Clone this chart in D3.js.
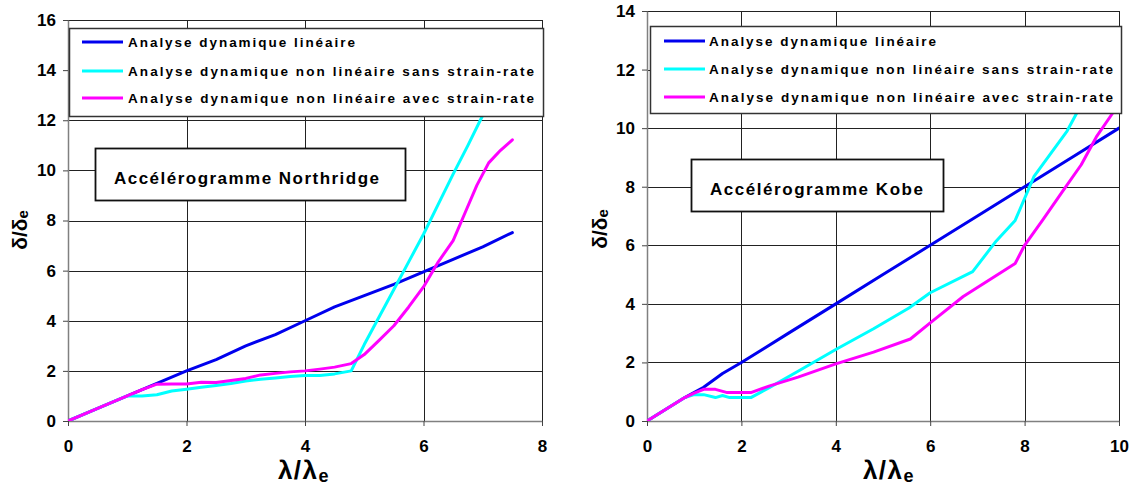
<!DOCTYPE html>
<html>
<head>
<meta charset="utf-8">
<script src="https://cdn.jsdelivr.net/npm/d3@7"></script>
<style>
  html, body { margin: 0; padding: 0; background: #fff; }
  svg { display: block; }
  text { font-family: Arial, "Liberation Sans", Helvetica, sans-serif; font-weight: bold; fill: #000; }
</style>
</head>
<body>
<svg id="chart" width="1135" height="488"></svg>
<script>
// ---------------- DATA ----------------
const seriesNames = [
  "Analyse dynamique linéaire",
  "Analyse dynamique non linéaire sans strain-rate",
  "Analyse dynamique non linéaire avec strain-rate"
];
const seriesColors = ["#0000ee", "#00ffff", "#ff00ff"];

// Northridge (left chart)
const nrLinX = [0, 0.5, 1, 1.5, 2, 2.5, 3, 3.5, 4, 4.5, 5, 5.5, 6, 6.5, 7, 7.5];
const nrLinY = [0, 0.5, 1.0, 1.5, 2.0, 2.45, 3.0, 3.45, 4.0, 4.55, 5.0, 5.45, 5.95, 6.45, 6.95, 7.52];
const nrSansX = [0, 0.5, 1.0, 1.25, 1.5, 1.75, 2.0, 2.25, 2.5, 2.75, 3.0, 3.25, 3.5, 3.75, 4.0, 4.25, 4.5, 4.78, 5.0, 5.25, 5.5, 5.75, 6.0, 6.25, 6.5, 6.75, 7.0, 7.25, 7.5];
const nrSansY = [0, 0.5, 1.0, 1.0, 1.05, 1.2, 1.27, 1.35, 1.42, 1.5, 1.6, 1.67, 1.72, 1.78, 1.82, 1.82, 1.88, 2.0, 3.05, 4.15, 5.25, 6.35, 7.45, 8.65, 9.85, 11.0, 12.2, 13.4, 14.5];
const nrAvecX = [0, 0.5, 1.0, 1.25, 1.5, 1.75, 2.0, 2.25, 2.5, 2.75, 3.0, 3.25, 3.5, 3.75, 4.0, 4.25, 4.5, 4.78, 5.0, 5.25, 5.5, 5.75, 6.0, 6.25, 6.5, 6.7, 6.9, 7.1, 7.3, 7.5];
const nrAvecY = [0, 0.5, 1.0, 1.25, 1.47, 1.48, 1.48, 1.55, 1.54, 1.62, 1.7, 1.84, 1.9, 1.96, 2.0, 2.07, 2.15, 2.29, 2.65, 3.22, 3.8, 4.55, 5.35, 6.35, 7.2, 8.3, 9.4, 10.3, 10.8, 11.22];

// Kobe (right chart)
const kbLinX = [0, 0.4, 0.8, 1.2, 1.6, 2, 3, 4, 5, 6, 7, 8, 9, 10];
const kbLinY = [0, 0.4, 0.8, 1.15, 1.62, 2.0, 3.0, 4.0, 5.0, 6.0, 7.0, 8.0, 9.0, 10.0];
const kbSansX = [0, 0.4, 0.8, 1.0, 1.2, 1.45, 1.6, 1.75, 2.2, 2.6, 3.2, 4.0, 4.8, 5.55, 6.0, 6.9, 7.4, 7.8, 8.2, 8.9, 9.2, 9.5];
const kbSansY = [0, 0.4, 0.8, 0.9, 0.9, 0.8, 0.87, 0.8, 0.8, 1.15, 1.7, 2.44, 3.15, 3.86, 4.38, 5.1, 6.15, 6.85, 8.35, 9.9, 10.8, 12.3];
const kbAvecX = [0, 0.4, 0.8, 1.0, 1.2, 1.45, 1.7, 2.2, 2.6, 3.2, 4.0, 4.8, 5.58, 6.0, 6.7, 7.8, 8.0, 8.4, 8.83, 9.2, 9.52, 9.86, 10];
const kbAvecY = [0, 0.4, 0.8, 0.95, 1.08, 1.08, 0.97, 0.97, 1.2, 1.5, 1.95, 2.35, 2.8, 3.35, 4.25, 5.38, 6.0, 6.9, 7.9, 8.75, 9.7, 10.5, 11.0];

const nrXTicks = [0, 2, 4, 6, 8];
const nrYTicks = [0, 2, 4, 6, 8, 10, 12, 14, 16];
const kbXTicks = [0, 2, 4, 6, 8, 10];
const kbYTicks = [0, 2, 4, 6, 8, 10, 12, 14];

const nrTitle = "Accélérogramme Northridge";
const kbTitle = "Accélérogramme Kobe";

// ---------------- LAYOUT ----------------
const charts = [
  {
    id: "nr", title: nrTitle,
    xTicks: nrXTicks, yTicks: nrYTicks,
    series: [[nrLinX, nrLinY], [nrSansX, nrSansY], [nrAvecX, nrAvecY]],
    plot: {l: 68, r: 542, t: 20, b: 421},
    legend: {x: 69, y: 28, w: 474, h: 88, rows: [42, 71, 98], lx0: 82, lx1: 123, tx: 128, tw: [227, 406, 406]},
    box: {x: 95, y: 148, w: 310, h: 52, tx: 114, tw: 265, ty: 184},
    yTitle: {x: 20, y: 230},
    xTitle: {x: 304, y: 479}
  },
  {
    id: "kb", title: kbTitle,
    xTicks: kbXTicks, yTicks: kbYTicks,
    series: [[kbLinX, kbLinY], [kbSansX, kbSansY], [kbAvecX, kbAvecY]],
    plot: {l: 647, r: 1119, t: 11, b: 421},
    legend: {x: 650, y: 26, w: 471, h: 87, rows: [41, 69, 97], lx0: 664, lx1: 705, tx: 709, tw: [227, 404, 404]},
    box: {x: 691, y: 159, w: 252, h: 52, tx: 710, tw: 213, ty: 195},
    yTitle: {x: 600, y: 229},
    xTitle: {x: 889, y: 479}
  }
];

const svg = d3.select("#chart");
svg.append("rect").attr("width", 1135).attr("height", 488).attr("fill", "#fff");
const FONT = 'Arial, "Liberation Sans", Helvetica, sans-serif';

charts.forEach(c => {
  const g = svg.append("g");
  const p = c.plot;
  const x = d3.scaleLinear().domain([0, d3.max(c.xTicks)]).range([p.l, p.r]);
  const y = d3.scaleLinear().domain([0, d3.max(c.yTicks)]).range([p.b, p.t]);

  svg.append("clipPath").attr("id", "clip-" + c.id)
    .append("rect").attr("x", p.l).attr("y", p.t).attr("width", p.r - p.l).attr("height", p.b - p.t);

  // gridlines
  g.selectAll(".hg").data(c.yTicks.filter(d => d > 0)).join("line")
    .attr("x1", p.l).attr("x2", p.r)
    .attr("y1", d => Math.round(y(d)) + 0.5).attr("y2", d => Math.round(y(d)) + 0.5)
    .attr("stroke", "#222").attr("stroke-width", 1);
  g.selectAll(".vg").data(c.xTicks.filter(d => d > 0)).join("line")
    .attr("y1", p.t).attr("y2", p.b)
    .attr("x1", d => Math.round(x(d)) + 0.5).attr("x2", d => Math.round(x(d)) + 0.5)
    .attr("stroke", "#222").attr("stroke-width", 1);

  // axes
  const yAxis = d3.axisLeft(y).tickValues(c.yTicks).tickSize(5).tickSizeOuter(0).tickPadding(7);
  const xAxis = d3.axisBottom(x).tickValues(c.xTicks).tickSize(5).tickSizeOuter(0).tickPadding(14);
  const ya = g.append("g").attr("transform", `translate(${p.l},0)`).call(yAxis);
  const xa = g.append("g").attr("transform", `translate(0,${p.b})`).call(xAxis);
  [ya, xa].forEach(a => {
    a.attr("font-size", 17).attr("font-weight", "bold").attr("font-family", FONT);
    a.select(".domain").attr("stroke", "#808080").attr("stroke-width", 1.5);
    a.selectAll(".tick line").attr("stroke", "#444");
    a.selectAll(".tick text").attr("font-size", 17).attr("font-weight", "bold")
      .style("font-size", "17px").style("font-weight", "700").attr("fill", "#000");
  });

  // series lines
  const line = d3.line().x(d => x(d[0])).y(d => y(d[1]));
  const lg = g.append("g").attr("clip-path", `url(#clip-${c.id})`);
  c.series.forEach((s, i) => {
    const pts = s[0].map((xv, k) => [xv, s[1][k]]);
    lg.append("path").datum(pts).attr("d", line)
      .attr("fill", "none").attr("stroke", seriesColors[i]).attr("stroke-width", 3)
      .attr("stroke-linejoin", "round").attr("stroke-linecap", "round");
  });

  // legend
  const L = c.legend;
  g.append("rect").attr("x", L.x + 0.5).attr("y", L.y + 0.5).attr("width", L.w).attr("height", L.h)
    .attr("fill", "#fff").attr("stroke", "#333").attr("stroke-width", 1.5);
  seriesNames.forEach((name, i) => {
    g.append("line").attr("x1", L.lx0).attr("x2", L.lx1).attr("y1", L.rows[i]).attr("y2", L.rows[i])
      .attr("stroke", seriesColors[i]).attr("stroke-width", 3);
    g.append("text").attr("x", L.tx).attr("y", L.rows[i] + 5)
      .attr("textLength", L.tw[i]).attr("lengthAdjust", "spacing")
      .style("font-size", "13.5px").text(name);
  });

  // annotation box
  const B = c.box;
  g.append("rect").attr("x", B.x + 0.5).attr("y", B.y + 0.5).attr("width", B.w).attr("height", B.h)
    .attr("fill", "#fff").attr("stroke", "#111").attr("stroke-width", 1.8);
  g.append("text").attr("x", B.tx).attr("y", B.ty)
    .attr("textLength", B.tw).attr("lengthAdjust", "spacing")
    .style("font-size", "17px").text(c.title);

  // y title  δ/δe
  const yt = g.append("text")
    .attr("transform", `translate(${c.yTitle.x + 7},${c.yTitle.y}) rotate(-90)`)
    .attr("text-anchor", "middle").style("font-size", "21px");
  yt.append("tspan").text("δ/δ");
  yt.append("tspan").style("font-size", "15px").attr("dy", 1).text("e");

  // x title  λ/λe
  const xt = g.append("text").attr("x", c.xTitle.x).attr("y", c.xTitle.y)
    .attr("text-anchor", "middle").style("font-size", "26px").style("letter-spacing", "1.5px");
  xt.append("tspan").text("λ/λ");
  xt.append("tspan").style("font-size", "18px").attr("dy", 3).text("e");
});
</script>
</body>
</html>
